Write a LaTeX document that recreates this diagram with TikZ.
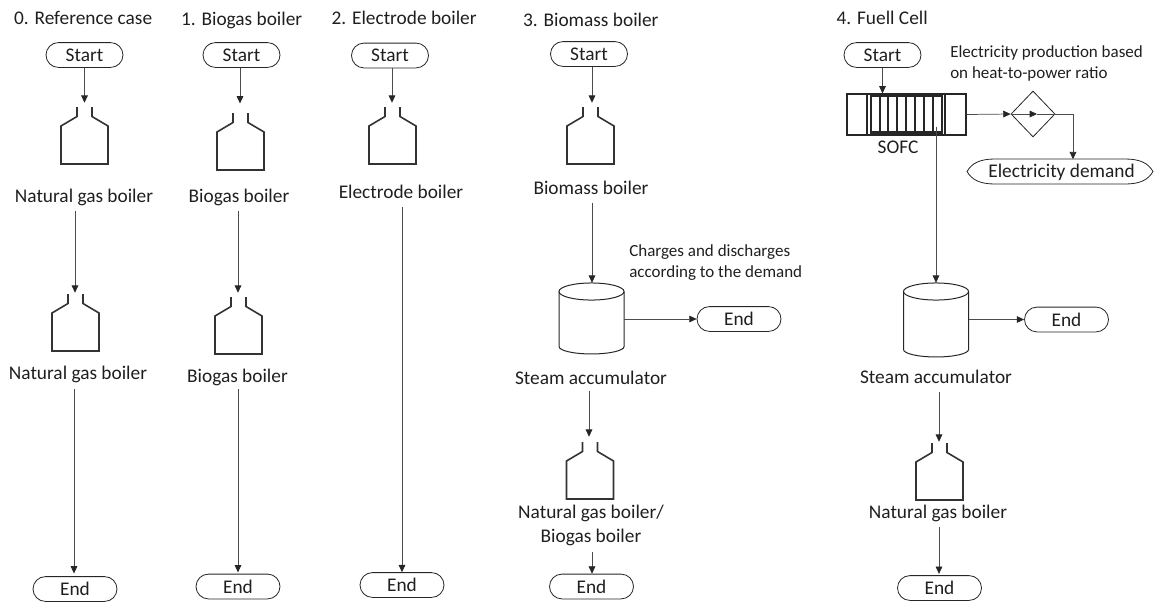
\documentclass[tikz,border=0pt]{standalone}
\usepackage{fontspec}
\setmainfont{Carlito}
\usetikzlibrary{arrows.meta,shapes.geometric,shapes.misc}
\definecolor{ln}{gray}{0.3}
\definecolor{tx}{gray}{0.12}
\tikzset{
 x=0.75pt,y=-0.75pt,
 lbl/.style={inner sep=0pt,outer sep=4.2pt,text height=12pt,text depth=2pt,font=\fontsize{14.5}{18}\selectfont,text=tx},
 lbltwo/.style={inner sep=0pt,outer sep=4.2pt,align=center,font=\fontsize{14.5}{18}\selectfont,text=tx},
 small/.style={inner sep=0pt,font=\fontsize{12.75}{15.75}\selectfont,align=left,anchor=west,text=tx},
 startbox/.style={rounded rectangle,draw=black!85,line width=0.6pt,inner sep=0pt,minimum width=57.75pt,minimum height=18.6pt,font=\fontsize{14.5}{18}\selectfont,text=tx},
 endbox/.style={startbox,minimum width=63pt},
 arr/.style={draw=ln,line width=0.55pt,-{Triangle[length=5.5pt,width=5pt,black!85]}},
 plain/.style={draw=ln,line width=0.55pt},
 boilerline/.style={draw=black!80,line width=1.2pt,line join=miter},
 boilerbox/.style={inner sep=0pt,minimum width=35.25pt,minimum height=42.75pt},
 tankbox/.style={inner sep=0pt,minimum width=48.75pt},
 tankline/.style={draw=black!85,line width=0.75pt},
 cellline/.style={draw=black!85,line width=1.1pt},
}
\newcommand{\boiler}[3]{% name, centre x, top y
 \node[boilerbox] (#1) at (#2,#3+28.5) {};
 \draw[boilerline] (#2-7.5,#3) -- (#2-7.5,#3+9.5) -- (#2-23.5,#3+19) -- (#2-23.5,#3+57) -- (#2+23.5,#3+57) -- (#2+23.5,#3+19) -- (#2+7.5,#3+9.5) -- (#2+7.5,#3);
}
\newcommand{\tank}[4]{% name, centre x, top y, bottom y
 \node[tankbox,minimum height={(#4-#3)*0.75pt}] (#1) at (#2,{(#3+#4)/2}) {};
 \draw[tankline] (#2,#3+8.5) ellipse [x radius=24.4pt,y radius=6.4pt];
 \draw[tankline] (#2-32.5,#3+8.5) -- (#2-32.5,#4-7.5) arc [start angle=180,end angle=360,x radius=24.4pt,y radius=5.6pt] -- (#2+32.5,#3+8.5);
}
\begin{document}
\begin{tikzpicture}
\useasboundingbox (0,0) rectangle (1154,601);
% titles
\node[lbl,anchor=west] (t0) at (8.5,18) {0. Reference case};
\node[lbl,anchor=west] (t1) at (175.5,19) {1. Biogas boiler};
\node[lbl,anchor=west] (t2) at (326,17.5) {2. Electrode boiler};
\node[lbl,anchor=west] (t3) at (517.5,20) {3. Biomass boiler};
\node[lbl,anchor=west] (t4) at (831,18) {4. Fuell Cell};
% col 0
\node[startbox] (s0) at (84.5,55) {Start};
\boiler{b0a}{84.5}{107}
\node[lbl] (l0a) at (84,196) {Natural gas boiler};
\boiler{b0b}{75.5}{294}
\node[lbl] (l0b) at (78,373) {Natural gas boiler};
\node[endbox] (e0) at (75,589) {End};
\draw[arr,shorten >=3pt] (s0.south) -- (s0.south |- b0a.north);
\draw[arr,shorten >=0.75pt] (75,0 |- l0a.south) -- (75,0 |- b0b.north);
\draw[arr,shorten >=2pt,shorten <=1pt] (74,0 |- l0b.south) -- (74,0 |- e0.north);
% col 1
\node[startbox] (s1) at (241.5,55) {Start};
\boiler{b1a}{240.5}{113}
\node[lbl] (l1a) at (239,196) {Biogas boiler};
\boiler{b1b}{238.5}{297}
\node[lbl] (l1b) at (237.5,376) {Biogas boiler};
\node[endbox] (e1) at (238,586.5) {End};
\draw[arr,shorten >=7pt] (240,0 |- s1.south) -- (240,0 |- b1a.north);
\draw[arr,shorten >=3pt] (238,0 |- l1a.south) -- (238,0 |- b1b.north);
\draw[arr,shorten >=1pt,shorten <=-1.5pt] (238,0 |- l1b.south) -- (238,0 |- e1.north);
% col 2
\node[startbox] (s2) at (390,55.5) {Start};
\boiler{b2}{392.5}{107}
\node[lbl] (l2) at (401,192) {Electrode boiler};
\node[endbox] (e2) at (402,585) {End};
\draw[arr,shorten >=3pt] (392,0 |- s2.south) -- (392,0 |- b2.north);
\draw[arr] (402,0 |- l2.south) -- (402,0 |- e2.north);
% col 3
\node[startbox] (s3) at (589,54) {Start};
\boiler{b3a}{590.5}{107}
\node[lbl] (l3a) at (591,188) {Biomass boiler};
\node[small] (n3) at (629,262.5) {Charges and discharges\\according to the demand};
\tank{c3}{591.5}{283}{354}
\node[endbox] (e3a) at (739,319) {End};
\node[lbl] (l3b) at (591,378) {Steam accumulator};
\boiler{b3b}{590}{442}
\node[lbltwo] (l3c) at (591,525) {Natural gas boiler/\\Biogas boiler};
\node[endbox] (e3b) at (591.5,586.5) {End};
\draw[arr,shorten >=3pt] (592,0 |- s3.south) -- (592,0 |- b3a.north);
\draw[arr] (592,0 |- l3a.south) -- (592,0 |- c3.north);
\draw[arr] (c3.east |- e3a.west) -- (e3a.west);
\draw[arr,shorten >=3.75pt,shorten <=-1.5pt] (589,0 |- l3b.south) -- (589,0 |- b3b.north);
\draw[arr,shorten <=1pt] (592,0 |- l3c.south) -- (592,0 |- e3b.north);
% col 4
\node[startbox] (s4) at (882.5,55) {Start};
\node[small] (n4) at (950,63.5) {Electricity production based\\on heat-to-power ratio};
\node[inner sep=0pt,minimum width=89.25pt,minimum height=30.5pt,draw=black!85,line width=1.1pt] (fc) at (906.5,114.5) {};
\foreach \xx in {867,871,880,888,897,906,915,924,933,942,945} \draw[cellline] (\xx,94) -- (\xx,135);
\draw[black!85,line width=2pt] (871,95.5) -- (942,95.5) (871,132.5) -- (942,132.5);
\node[lbl] (l4f) at (898,147) {SOFC};
\node[diamond,draw=black!85,line width=0.6pt,inner sep=0pt,minimum width=33pt,minimum height=34.5pt] (d4) at (1033,114) {};
\coordinate (d4m) at (1037,114);
\coordinate (d4r) at (1073,114);
\node[inner sep=0pt,minimum width=139.5pt,minimum height=18.75pt,font=\fontsize{14.5}{18}\selectfont,text=tx] (e4e) at (1061.5,172) {Electricity demand};
\draw[black!85,line width=0.6pt] (967,171.5) .. controls (972,163) and (980,159) .. (995,159) -- (1125,159) .. controls (1140,159) and (1148,163) .. (1153,171.5) .. controls (1148,180) and (1140,184) .. (1125,184) -- (995,184) .. controls (980,184) and (972,180) .. cycle;
\tank{c4}{936}{283}{357}
\node[endbox] (e4a) at (1066.5,319.5) {End};
\node[lbl] (l4b) at (936,377) {Steam accumulator};
\boiler{b4}{939.5}{443}
\node[lbl] (l4c) at (938,512) {Natural gas boiler};
\node[endbox] (e4b) at (939.5,588) {End};
\draw[arr] (s4.south) -- (s4.south |- fc.north);
\draw[arr] (fc.east) -- (d4.west);
\draw[arr] (d4.west) -- (d4m);
\draw[plain] (d4m) -- (d4r);
\draw[arr] (d4r) -- (d4r |- e4e.north);
\draw[arr,shorten <=-6.75pt] (936,0 |- fc.south) -- (936,0 |- c4.north);
\draw[arr] (c4.east |- e4a.west) -- (e4a.west);
\draw[arr,shorten >=0.75pt] (939,0 |- l4b.south) -- (939,0 |- b4.north);
\draw[arr,shorten >=1pt] (939,0 |- l4c.south) -- (939,0 |- e4b.north);
\end{tikzpicture}
\end{document}
